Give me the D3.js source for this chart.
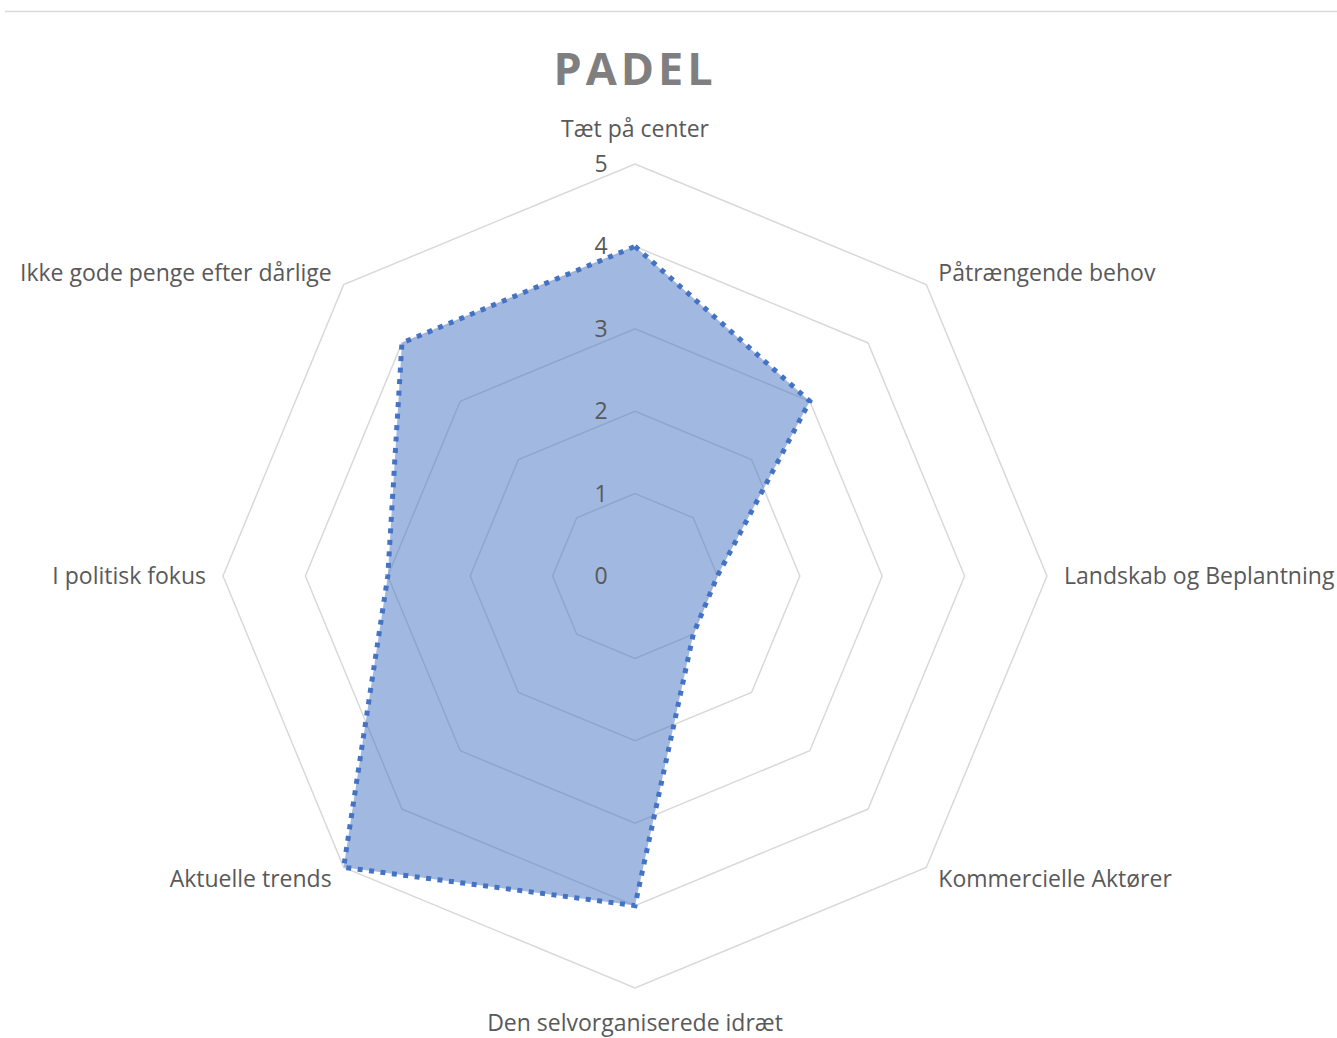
<!DOCTYPE html>
<html>
<head>
<meta charset="utf-8">
<script src="https://cdn.jsdelivr.net/npm/d3@7"></script>
<style>
  body { margin: 0; background: #fff; }
  text { font-family: "Open Sans", sans-serif; }
</style>
</head>
<body>
<div id="chart"></div>
<script>
// Chart data
const categories = [
  "Tæt på center",
  "Påtrængende behov",
  "Landskab og Beplantning",
  "Kommercielle Aktører",
  "Den selvorganiserede idræt",
  "Aktuelle trends",
  "I politisk fokus",
  "Ikke gode penge efter dårlige"
];
const values = [4, 3, 1, 1, 4, 5, 3, 4];
const levels = [0, 1, 2, 3, 4, 5];

const width = 1337, height = 1038;
const cx = 635, cy = 576, radius = 412;

const svg = d3.select("#chart")
  .append("svg")
  .attr("width", width)
  .attr("height", height);

// top border of chart area
svg.append("line")
   .attr("x1", 5).attr("x2", width)
   .attr("y1", 11.5).attr("y2", 11.5)
   .attr("stroke", "#d9d9d9")
   .attr("stroke-width", 1.5);

const r = d3.scaleLinear().domain([0, 5]).range([0, radius]);
const angle = d3.scaleLinear().domain([0, categories.length]).range([0, 2 * Math.PI]);

const g = svg.append("g").attr("transform", `translate(${cx},${cy})`);

const radial = d3.lineRadial()
  .angle((d, i) => angle(i))
  .radius(d => r(d))
  .curve(d3.curveLinearClosed);

// grid octagons
g.selectAll(".grid")
  .data(levels.slice(1))
  .enter().append("path")
  .attr("class", "grid")
  .attr("d", lv => radial(categories.map(() => lv)))
  .attr("fill", "none")
  .attr("stroke", "#d9d9d9")
  .attr("stroke-width", 1.5);

// data area
g.append("path")
  .datum(values)
  .attr("d", radial)
  .attr("fill", "#4472c4")
  .attr("fill-opacity", 0.5)
  .attr("stroke", "#4472c4")
  .attr("stroke-width", 5)
  .attr("stroke-dasharray", "5 6.5")
  .attr("stroke-linejoin", "miter");

// level labels
g.selectAll(".lvl")
  .data(levels)
  .enter().append("text")
  .attr("class", "lvl")
  .attr("x", -34)
  .attr("y", d => -r(d))
  .attr("dy", "0.35em")
  .attr("text-anchor", "middle")
  .attr("fill", "#595959")
  .style("font-size", "23px")
  .text(d => d);

// category labels
g.selectAll(".cat")
  .data(categories)
  .enter().append("text")
  .attr("class", "cat")
  .each(function(d, i) {
    const a = angle(i);
    const sx = Math.sin(a), sy = -Math.cos(a);
    const t = d3.select(this);
    let x = sx * (radius + 17), y = sy * (radius + 17);
    let anchor = "middle";
    if (sx > 0.01) anchor = "start";
    if (sx < -0.01) anchor = "end";
    if (Math.abs(sx) < 0.01) y = sy * (radius + 35);
    t.attr("x", x).attr("y", y)
     .attr("dy", "0.35em")
     .attr("text-anchor", anchor);
  })
  .attr("fill", "#595959")
  .style("font-size", "23px")
  .text(d => d);

// title
svg.append("text")
   .attr("x", cx)
   .attr("y", 85)
   .attr("text-anchor", "middle")
   .attr("fill", "#7f7f7f")
   .style("font-size", "45px")
   .style("font-weight", "bold")
   .style("letter-spacing", "4px")
   .text("PADEL");
</script>
</body>
</html>
